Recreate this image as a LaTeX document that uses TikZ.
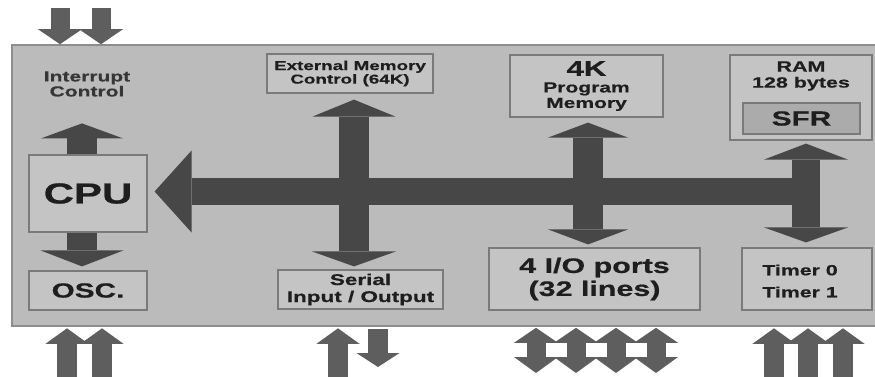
\documentclass[tikz,border=0pt]{standalone}
\usepackage{fontspec}
\setmainfont{Liberation Sans}[FakeStretch=1.45, BoldFeatures={FakeBold=0.5}]
\usetikzlibrary{arrows.meta,calc}
\definecolor{mainfill}{HTML}{BBBBBB}
\definecolor{mainline}{HTML}{8E8E8E}
\definecolor{boxfill}{HTML}{C4C4C4}
\definecolor{boxline}{HTML}{7A7A7A}
\definecolor{sfrfill}{HTML}{ABABAB}
\definecolor{arrin}{HTML}{474747}
\definecolor{arrout}{HTML}{5E5E5E}
\definecolor{txt}{HTML}{1E1E1E}
\definecolor{inttxt}{HTML}{363636}
\newcommand\fs[2]{\fontsize{#1}{#2}\selectfont}
\tikzset{
  box/.style={draw=boxline, fill=boxfill, line width=1.2pt, inner sep=0pt,
    align=center, text=txt},
  lbl/.style={inner sep=0pt, align=center, text=txt},
  inbar/.style={draw=arrin, line width=#1},
  outbar/.style={draw=arrout, line width=#1},
}
\begin{document}
\begin{tikzpicture}[x=1pt,y=-1pt]
\useasboundingbox (0,0) rectangle (875,376);
% chip body
\node[draw=mainline, fill=mainfill, line width=1.6pt, minimum width=868pt,
  minimum height=281pt, inner sep=0pt] (chip) at (446,185.5) {};

% boxes
\node[box, minimum width=166pt, minimum height=39pt, font=\bfseries\fs{13}{13.5}]
  (ext) at (350,73.5) {External Memory\\Control (64K)};
\node[box, minimum width=153pt, minimum height=62pt, font=\bfseries\fs{14.5}{16}]
  (prog) at (586.5,86) {{\fs{21.5}{16}4K}\\[0.5pt]Program\\[-0.5pt]Memory};
\node[box, minimum width=142pt, minimum height=85pt] (ram) at (801,97.5) {};
\node[lbl, font=\bfseries\fs{14.8}{16}] (ramtxt) at (801,76) {RAM\\128 bytes};
\node[box, fill=sfrfill, minimum width=117pt, minimum height=31pt, font=\bfseries\fs{20.5}{21}]
  (sfr) at (801.5,118.5) {SFR};
\node[lbl, text=inttxt, font=\bfseries\fs{14.5}{15}] (intc) at (87,84) {Interrupt\\Control};
\node[box, minimum width=118pt, minimum height=77pt, font=\bfseries\fs{29}{30}]
  (cpu) at (88,193.5) {CPU};
\node[box, minimum width=118pt, minimum height=39pt, font=\bfseries\fs{20.5}{21}]
  (osc) at (88,290.5) {OSC.};
\node[box, minimum width=165pt, minimum height=39pt, font=\bfseries\fs{15.5}{17}]
  (serial) at (360.5,289.5) {Serial\\Input / Output};
\node[box, minimum width=211pt, minimum height=62pt, font=\bfseries\fs{21}{23}]
  (io) at (594.5,279) {4 I/O ports\\(32 lines)};
\node[box, minimum width=130pt, minimum height=62pt] (timer) at (807,279) {};
\node[lbl, font=\bfseries\fs{14.7}{22}] (timertxt) at (800,281) {Timer 0\\Timer 1};

% internal bus
\coordinate (busR) at (820,191.5);
\draw[inbar=27pt, -{Triangle[length=37pt 0 0,width=82pt 0 0,line width=0pt]}]
  (busR) -- ($(cpu.east)+(7,-2)$);
\draw[inbar=30pt, -{Triangle[length=15pt 0 0,width=82pt 0 0,line width=0pt]}]
  ($(cpu.north)+(-6,0)$) -- ($(cpu.north)+(-6,-31)$);
\draw[inbar=30pt, -{Triangle[length=16pt 0 0,width=83pt 0 0,line width=0pt]}]
  ($(cpu.south)+(-6,0)$) -- ($(osc.north)+(-6,-4)$);
\draw[inbar=30pt, {Triangle[length=17pt 0 0,width=83pt 0 0,line width=0pt]}-{Triangle[length=15pt 0 0,width=84pt 0 0,line width=0pt]}]
  ($(ext.south)+(4,6)$) -- ($(serial.north)+(-6.5,-3)$);
\draw[inbar=30pt, {Triangle[length=15pt 0 0,width=80pt 0 0,line width=0pt]}-{Triangle[length=15pt 0 0,width=80pt 0 0,line width=0pt]}]
  ($(prog.south)+(1.5,5)$) -- ($(io.north)+(-6.5,-3)$);
\draw[inbar=28pt, {Triangle[length=16pt 0 0,width=84pt 0 0,line width=0pt]}-{Triangle[length=15pt 0 0,width=84pt 0 0,line width=0pt]}]
  ($(ram.south)+(5,3)$) -- ($(timer.north)+(-1,-5)$);

% external pins
\coordinate (i1) at (60,8);
\coordinate (i2) at (101,8);
\foreach \c in {i1,i2}
  \draw[outbar=19pt, -{Triangle[length=15pt 0 0,width=44pt 0 0,line width=0pt]}]
    (\c) -- (\c |- chip.north);
\coordinate (o1) at (67,378);
\coordinate (o2) at (102,378);
\coordinate (s1) at (338,378);
\coordinate (t1) at (774,378);
\coordinate (t2) at (808,378);
\coordinate (t3) at (843,378);
\foreach \c in {o1,o2,s1,t1,t2,t3}
  \draw[outbar=19.5pt, -{Triangle[length=15.5pt 0 0,width=43pt 0 0,line width=0pt]}]
    (\c) -- ($(\c |- chip.south)+(0,1.5)$);
\coordinate (s2) at (378,367);
\draw[outbar=20pt, -{Triangle[length=14pt 0 0,width=43pt 0 0,line width=0pt]}]
  ($(s2 |- chip.south)+(0,2)$) -- (s2);
\foreach \x [count=\k] in {536,576,616,656}{
  \coordinate (p\k) at (\x,373);
  \draw[outbar=19pt, {Triangle[length=15pt 0 0,width=44pt 0 0,line width=0pt]}-{Triangle[length=16pt 0 0,width=44pt 0 0,line width=0pt]}]
    ($(p\k |- chip.south)+(0,1)$) -- (p\k);
}
\end{tikzpicture}
\end{document}
